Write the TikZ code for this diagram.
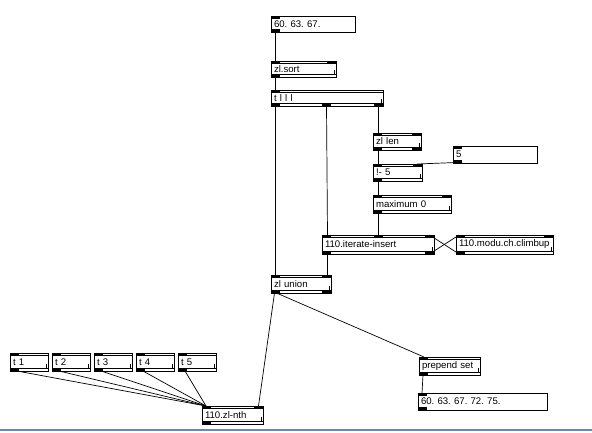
\documentclass[tikz,border=0pt]{standalone}
\usepackage{fontspec}
\setmainfont{Liberation Sans}
\usetikzlibrary{calc}
\definecolor{maxframe}{RGB}{110,135,165}
\frenchspacing

\tikzset{
  maxbox/.style={draw=black, line width=0.6pt, anchor=north west, outer sep=0pt,
    inner xsep=3pt, inner ysep=0pt, font=\fontsize{9.6}{10}\selectfont, align=left},
  msgbox/.style 2 args={maxbox, text width={#1pt-6pt}, minimum height=#2,
    path picture={
      \fill (path picture bounding box.north west) rectangle ++(9,2.5);
      \fill (path picture bounding box.south west) rectangle ++(9,-3);
    }},
  objbox/.style 2 args={maxbox, text width={#1pt-6pt}, minimum height=#2,
    path picture={
      \draw[line width=0.6pt] ($(path picture bounding box.north west)+(0,2.5)$) -- ($(path picture bounding box.north east)+(0,2.5)$);
      \draw[line width=0.6pt] ($(path picture bounding box.south west)+(0,-2.5)$) -- ($(path picture bounding box.south east)+(0,-2.5)$);
      \draw[line width=0.6pt] ($(path picture bounding box.south east)+(-1.5,-3)$) -- ++(0,-4);
      \fill (path picture bounding box.north west) rectangle ++(9,2.5);
      \fill (path picture bounding box.south west) rectangle ++(9,-3);
    }},
  patch/.style={line width=0.7pt, black},
}

\begin{document}
\begin{tikzpicture}[x=1pt, y=-1pt]
  \useasboundingbox (0,0) rectangle (592,432);
  \fill[white] (0,0) rectangle (592,432);

  % top chain
  \node[msgbox={84}{16}] (list) at (271,16) {60. 63. 67.};
  \node[objbox={65}{16}] (sort) at (271,61) {zl.sort};
  \node[objbox={112}{16}] (trig) at (271,90) {t l l l};

  % length branch
  \node[objbox={48}{17}] (len) at (373,133) {zl len};
  \node[msgbox={84}{17}] (five) at (453,146) {5};
  \node[objbox={49}{17}] (minus) at (373,164) {!- 5};
  \node[objbox={78}{18}] (maxi) at (373,195) {maximum 0};
  \node[objbox={112}{19}] (iter) at (322,235) {110.iterate-insert};
  \node[objbox={97}{19}] (modu) at (456,235) {110.modu.ch.climbup};

  % union and output
  \node[objbox={60}{18}] (union) at (271,275) {zl union};
  \node[objbox={61}{18}] (prep) at (419,357) {prepend set};
  \node[msgbox={129}{17}] (result) at (418,393) {60. 63. 67. 72. 75.};

  % index triggers
  \foreach \i/\xx in {1/10, 2/52, 3/94, 4/136, 5/178}
    \node[objbox={38}{18}] (t\i) at (\xx,353) {t \i};
  \node[objbox={61}{18}] (nth) at (202,406) {110.zl-nth};

  % extra inlets and outlets
  \foreach \n/\dx in {len/39, minus/40, maxi/69, iter/52, iter/103, modu/88, union/51, nth/52, sort/56}
    \fill ($(\n.north west)+(\dx,0)$) rectangle ++(9,2.5);
  \foreach \n/\dx in {trig/51, trig/103, len/39, iter/103, union/51}
    \fill ($(\n.south west)+(\dx,0)$) rectangle ++(9,-3);

  % patch cords
  \draw[patch] ($(list.south west)+(4.5,0)$) -- ($(sort.north west)+(4.5,0)$);
  \draw[patch] ($(sort.south west)+(4.5,0)$) -- ($(trig.north west)+(4.5,0)$);
  \draw[patch] ($(trig.south west)+(4.5,0)$) -- ($(union.north west)+(4.5,0)$);
  \draw[patch] ($(trig.south west)+(55.5,0)$) -- ($(iter.north west)+(5.5,0)$);
  \draw[patch] ($(trig.south west)+(107,0)$) -- ($(len.north west)+(5,0)$);
  \draw[patch] ($(len.south west)+(5,0)$) -- ($(minus.north west)+(5,0)$);
  \draw[patch] ($(five.south west)+(3,-0.5)$) -- ($(minus.north west)+(44,0)$);
  \draw[patch] ($(minus.south west)+(5,0)$) -- ($(maxi.north west)+(5,0)$);
  \draw[patch] ($(maxi.south west)+(5,0)$) -- ($(iter.north west)+(56,0)$);
  \draw[patch] ($(iter.south west)+(107.5,0)$) -- ($(modu.north west)+(3,0)$);
  \draw[patch] ($(modu.south west)+(3,0)$) -- ($(iter.north west)+(107.5,0)$);
  \draw[patch] ($(iter.south west)+(5.5,0)$) -- ($(union.north west)+(56.5,0)$);
  \draw[patch] ($(union.south west)+(3.5,0)$) -- ($(nth.north west)+(56.5,0)$);
  \draw[patch] ($(union.south west)+(5.5,0)$) -- ($(prep.north west)+(5,0)$);
  \draw[patch] ($(prep.south west)+(4,0)$) -- ($(result.north west)+(4,0)$);
  \foreach \i in {1,...,5}
    \draw[patch] ($(t\i.south west)+(7,0)$) -- ($(nth.north west)+(4,0)$);

  % window edge
  \draw[maxframe, line width=2pt] (0,429.5) -- (592,429.5);
\end{tikzpicture}
\end{document}
